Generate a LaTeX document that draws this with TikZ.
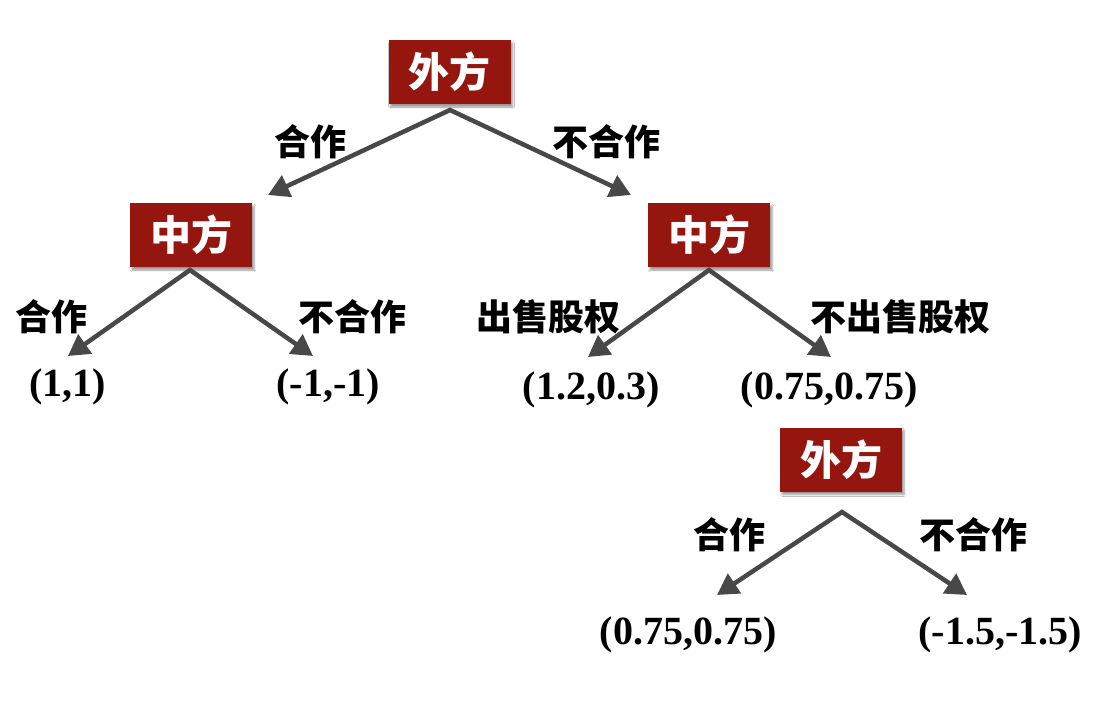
\documentclass[tikz,border=0pt]{standalone}
\usepackage{fontspec}
\setmainfont{Liberation Serif}
\newfontfamily\cjk{Noto Sans CJK SC}
\usetikzlibrary{arrows.meta,shadows.blur}
\definecolor{boxred}{RGB}{148,22,14}
\definecolor{arrowgray}{RGB}{72,72,72}
\tikzset{
  player/.style={fill=boxred, text=white, minimum width=122pt, minimum height=64pt,
    inner sep=0pt, font=\cjk\bfseries\fontsize{41}{41}\selectfont,
    blur shadow={shadow xshift=2pt, shadow yshift=-3pt, shadow blur steps=6, shadow opacity=40}},
  move/.style={font=\cjk\bfseries\fontsize{36}{36}\selectfont, inner sep=0pt},
  payoff/.style={font=\bfseries\fontsize{40}{40}\selectfont, inner sep=0pt},
  branch/.style={draw=arrowgray, line width=4.5pt, line join=miter,
    {Triangle[length=21pt,width=23pt]}-{Triangle[length=21pt,width=23pt]}},
}
\begin{document}
\begin{tikzpicture}[x=1pt,y=-1pt]
\useasboundingbox (0,0) rectangle (1104,704);
\fill[white] (0,0) rectangle (1104,704);

% players
\node[player] (r)  at (449.5,72)  {外方};
\node[player] (cl) at (191,235)   {中方};
\node[player] (cr) at (709,235)   {中方};
\node[player] (fb) at (841,459.5) {外方};

% apexes and tips
\coordinate (ra)  at (450,110);
\coordinate (rl)  at (268,195);
\coordinate (rr)  at (631,195);
\coordinate (cla) at (190,270);
\coordinate (cll) at (68,356);
\coordinate (clr) at (313,356);
\coordinate (cra) at (709,270);
\coordinate (crl) at (588,357);
\coordinate (crr) at (831,357);
\coordinate (fba) at (842,512);
\coordinate (fbl) at (717,595);
\coordinate (fbr) at (967,595);

\draw[branch] (rl) -- (ra) -- (rr);
\draw[branch] (cll) -- (cla) -- (clr);
\draw[branch] (crl) -- (cra) -- (crr);
\draw[branch] (fbl) -- (fba) -- (fbr);

% move labels
\node[move] (m1) at (310,142) {合作};
\node[move] (m2) at (606,142) {不合作};
\node[move] (m3) at (52,317)  {合作};
\node[move] (m4) at (352,317) {不合作};
\node[move] (m5) at (548,317) {出售股权};
\node[move] (m6) at (900,317) {不出售股权};
\node[move] (m7) at (729,535) {合作};
\node[move] (m8) at (973,535) {不合作};

% payoffs
\node[payoff] (p1) at (68,387)  {(1,1)};
\node[payoff] (p2) at (328,387) {(-1,-1)};
\node[payoff] (p3) at (591,390) {(1.2,0.3)};
\node[payoff] (p4) at (829,390) {(0.75,0.75)};
\node[payoff] (p5) at (688,635) {(0.75,0.75)};
\node[payoff] (p6) at (1000,635) {(-1.5,-1.5)};
\end{tikzpicture}
\end{document}
